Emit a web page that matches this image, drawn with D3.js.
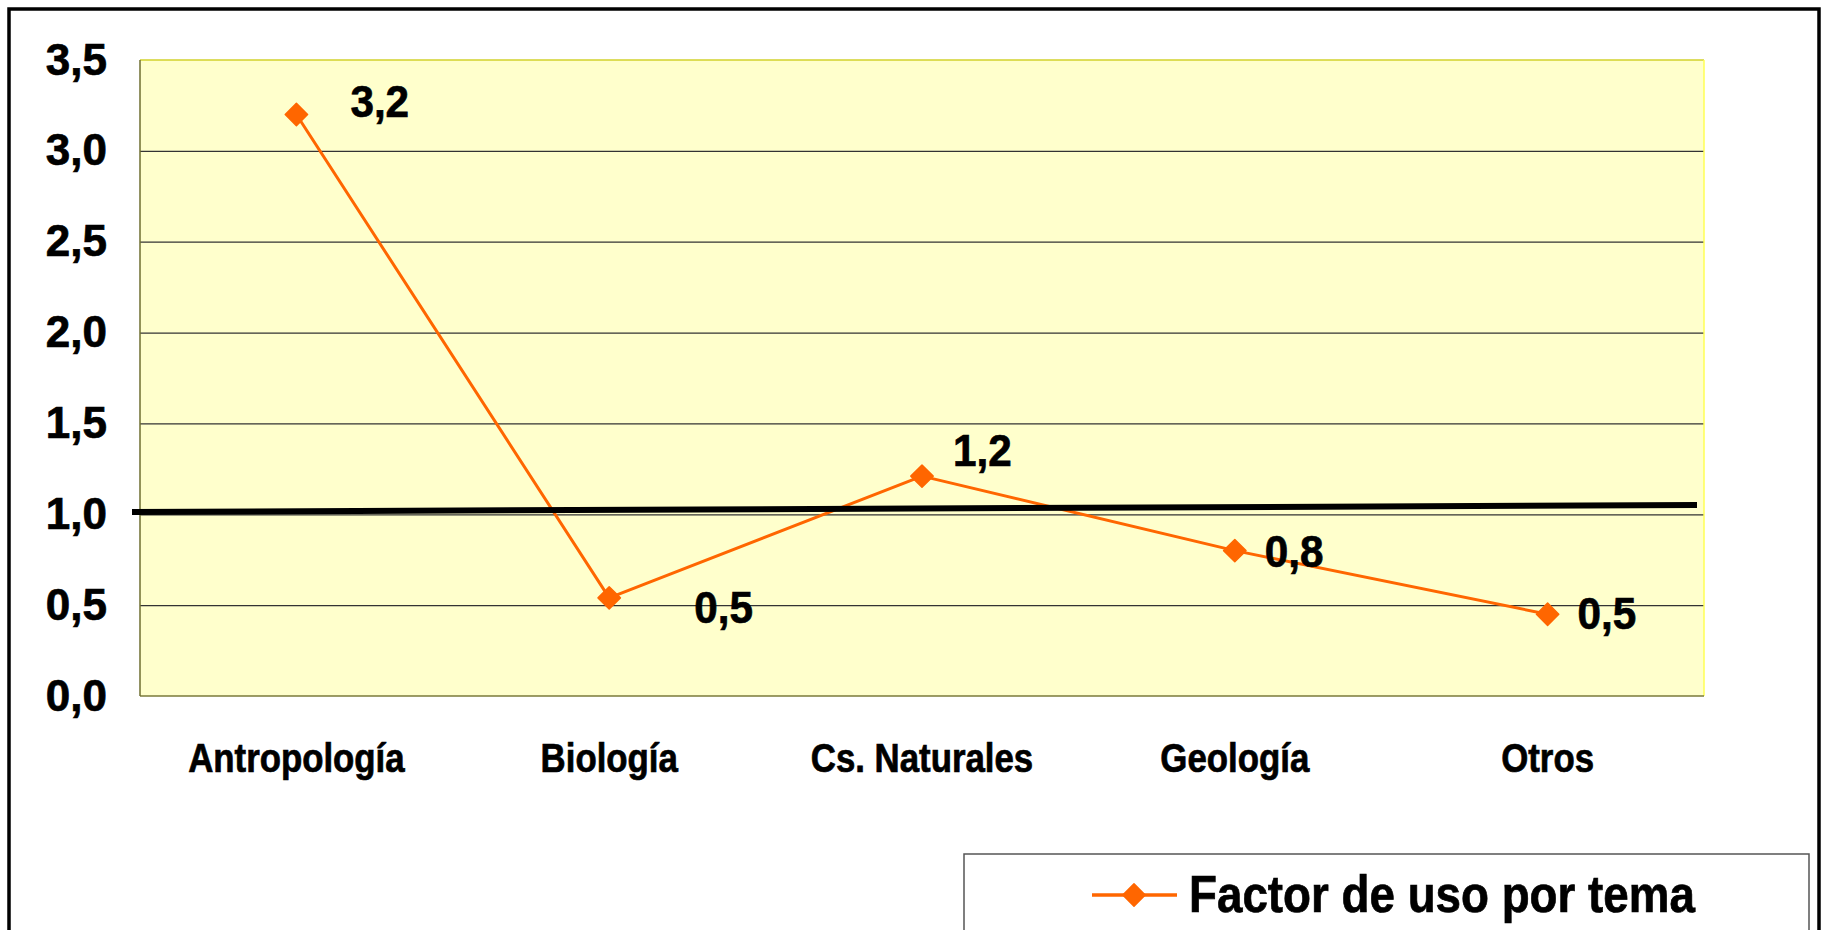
<!DOCTYPE html>
<html>
<head>
<meta charset="utf-8">
<script src="https://cdn.jsdelivr.net/npm/d3@7"></script>
<style>
  html, body { margin: 0; padding: 0; background: #ffffff; overflow: hidden; }
  svg { display: block; font-family: "Liberation Sans", Arial, sans-serif; }
  svg text { stroke: #000; stroke-width: 0.7px; paint-order: stroke; }
</style>
</head>
<body>
<svg id="chart" width="1822" height="930"></svg>
<script>
// ---- data ----
const categories = ["Antropología", "Biología", "Cs. Naturales", "Geología", "Otros"];
const values = [3.2, 0.54, 1.21, 0.80, 0.45];
const valueLabels = ["3,2", "0,5", "1,2", "0,8", "0,5"];
const yTicks = [0, 0.5, 1.0, 1.5, 2.0, 2.5, 3.0, 3.5];
const yTickLabels = ["0,0", "0,5", "1,0", "1,5", "2,0", "2,5", "3,0", "3,5"];
const seriesName = "Factor de uso por tema";
const refLineValues = [1.013, 1.051]; // hand-drawn reference line (start, end)

// ---- layout ----
const W = 1822, H = 930;
const plot = { left: 140, top: 60, right: 1704, bottom: 696 };
const labelNudge = [[54, 2], [85, 25], [31, -10], [30, 16], [30, 15]];
const orange = "#FF6600";

const svg = d3.select("#chart");

// outer frame
svg.append("rect")
  .attr("x", 9).attr("y", 9)
  .attr("width", 1810).attr("height", 1000)
  .attr("fill", "#ffffff")
  .attr("stroke", "#000").attr("stroke-width", 3.5);

const x = d3.scaleBand().domain(categories).range([plot.left, plot.right]);
const y = d3.scaleLinear().domain([0, 3.5]).range([plot.bottom, plot.top]);
const cx = c => x(c) + x.bandwidth() / 2;

// plot area background
svg.append("rect")
  .attr("x", plot.left).attr("y", plot.top)
  .attr("width", plot.right - plot.left).attr("height", plot.bottom - plot.top)
  .attr("fill", "#FFFFCC");

// gridlines
const grid = svg.append("g")
  .attr("transform", `translate(${plot.left},0)`)
  .call(d3.axisLeft(y).tickValues(yTicks.slice(1, -1))
    .tickSize(-(plot.right - plot.left)).tickFormat(""));
grid.select(".domain").remove();
grid.selectAll(".tick line").attr("stroke", "#333").attr("stroke-width", 1.2);

// plot area border (3D-ish)
const b = svg.append("g");
b.append("line").attr("x1", plot.left).attr("x2", plot.right).attr("y1", plot.top).attr("y2", plot.top)
  .attr("stroke", "#d2d22c").attr("stroke-width", 1.5);
b.append("line").attr("x1", plot.right).attr("x2", plot.right).attr("y1", plot.top).attr("y2", plot.bottom)
  .attr("stroke", "#ffff55").attr("stroke-width", 1.5);
b.append("line").attr("x1", plot.left).attr("x2", plot.right).attr("y1", plot.bottom).attr("y2", plot.bottom)
  .attr("stroke", "#7a7a3a").attr("stroke-width", 1.5);
b.append("line").attr("x1", plot.left).attr("x2", plot.left).attr("y1", plot.top).attr("y2", plot.bottom)
  .attr("stroke", "#6e6e30").attr("stroke-width", 1.5);

// y tick labels
const yAxis = svg.append("g")
  .attr("transform", `translate(${plot.left},0)`)
  .call(d3.axisLeft(y).tickValues(yTicks).tickSize(0).tickPadding(33)
    .tickFormat((d, i) => yTickLabels[i]));
yAxis.select(".domain").remove();
yAxis.selectAll("text")
  .attr("fill", "#000").attr("font-size", 44).attr("font-weight", "bold")
  .attr("font-family", "'Liberation Sans', Arial, sans-serif");

// x labels
const xAxis = svg.append("g")
  .attr("transform", `translate(0,${plot.bottom})`)
  .call(d3.axisBottom(x).tickSize(0).tickPadding(47.5));
xAxis.select(".domain").remove();
xAxis.selectAll("text")
  .attr("fill", "#000").attr("font-size", 40).attr("font-weight", "bold")
  .attr("font-family", "'Liberation Sans', Arial, sans-serif")
  .attr("transform", "scale(0.87,1)");

// series line
const pts = categories.map((c, i) => [cx(c), y(values[i])]);
svg.append("path")
  .attr("d", d3.line()(pts))
  .attr("fill", "none").attr("stroke", orange).attr("stroke-width", 3)
  .attr("stroke-linejoin", "round");

// reference black line
svg.append("line")
  .attr("x1", plot.left - 8).attr("y1", y(refLineValues[0]))
  .attr("x2", plot.right - 7).attr("y2", y(refLineValues[1]))
  .attr("stroke", "#000").attr("stroke-width", 6);

// markers
const diamond = d3.symbol().type(d3.symbolSquare).size(250);
svg.selectAll(".mk").data(pts).join("path")
  .attr("class", "mk")
  .attr("d", diamond)
  .attr("transform", d => `translate(${d[0]},${d[1]}) rotate(45)`)
  .attr("fill", orange).attr("stroke", orange).attr("stroke-width", 1.5)
  .attr("stroke-linejoin", "round");

// data labels
svg.selectAll(".dl").data(pts).join("text")
  .attr("class", "dl")
  .attr("transform", (d, i) => `translate(${d[0] + labelNudge[i][0]},${d[1] + labelNudge[i][1]}) scale(0.96,1)`)
  .attr("font-size", 44).attr("font-weight", "bold").attr("fill", "#000")
  .text((d, i) => valueLabels[i]);

// legend
const lg = svg.append("g");
lg.append("rect")
  .attr("x", 964).attr("y", 854).attr("width", 845).attr("height", 120)
  .attr("fill", "#fff").attr("stroke", "#555").attr("stroke-width", 1.5);
lg.append("line")
  .attr("x1", 1092).attr("x2", 1177).attr("y1", 895).attr("y2", 895)
  .attr("stroke", orange).attr("stroke-width", 3.5);
lg.append("path")
  .attr("d", diamond)
  .attr("transform", "translate(1134,895) rotate(45)")
  .attr("fill", orange).attr("stroke", orange).attr("stroke-width", 1.5)
  .attr("stroke-linejoin", "round");
lg.append("text")
  .attr("transform", "translate(1189,912) scale(0.88,1)")
  .attr("font-size", 52).attr("font-weight", "bold").attr("fill", "#000")
  .text(seriesName);
</script>
</body>
</html>
